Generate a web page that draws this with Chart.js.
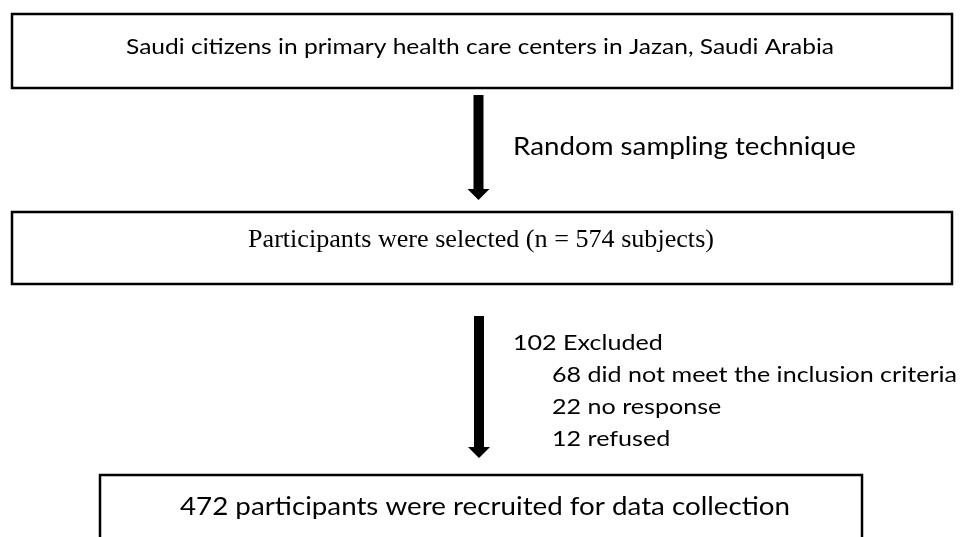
<!DOCTYPE html>
<html>
<head>
<meta charset="utf-8">
<script src="https://cdn.jsdelivr.net/npm/chart.js@4.4.1/dist/chart.umd.min.js"></script>
<style>
  html, body { margin: 0; padding: 0; background: #ffffff; }
  #wrap { width: 964px; height: 537px; position: relative; }
</style>
</head>
<body>
<div id="wrap"><canvas id="c" width="964" height="537"></canvas></div>
<script>
// ---- flow data ----
const sourcePopulation = "Saudi citizens in primary health care centers in Jazan, Saudi Arabia";
const samplingMethod = "Random sampling technique";
const selectedCount = 574;
const excludedTotal = 102;
const exclusionCounts = [68, 22, 12];
const exclusionReasons = ["did not meet the inclusion criteria", "no response", "refused"];
const recruitedCount = 472;

// ---- layout (coordinates in the hidden 0..964 x 0..537 scale space) ----
const boxes = [
  { x0: 12, x1: 952, y0: 14, y1: 88, text: sourcePopulation,
    font: "Lato", size: 22, tx: 480, ty: 47, tw: 708 },
  { x0: 12, x1: 952, y0: 212, y1: 284, text: "Participants were selected (n = " + selectedCount + " subjects)",
    font: "Liberation Serif", size: 26, tx: 481, ty: 240, tw: 466 },
  { x0: 100, x1: 862, y0: 475, y1: 560, text: recruitedCount + " participants were recruited for data collection",
    font: "Lato", size: 25, tx: 485, ty: 507, tw: 610 }
];
const arrows = [
  { x: 478.5, y0: 95, y1: 200 },
  { x: 479, y0: 316, y1: 458 }
];
const noteLines = [
  { text: samplingMethod, x: 513, y: 147, size: 25, tw: 343 }
];
const listLines = [{ text: excludedTotal + " Excluded", x: 513, y: 343 }].concat(
  exclusionCounts.map((n, i) => ({ text: n + " " + exclusionReasons[i], x: 552, y: 375 + 32 * i }))
);
const listFontSize = 22, listWidestTarget = 405;

const flowPlugin = {
  id: 'flow',
  afterDraw(chart) {
    const ctx = chart.ctx;
    const sx = chart.scales.x, sy = chart.scales.y;
    const X = v => sx.getPixelForValue(v);
    const Y = v => sy.getPixelForValue(v);
    ctx.save();
    // boxes
    ctx.strokeStyle = '#000';
    ctx.lineWidth = 2.5;
    boxes.forEach(b => {
      ctx.strokeRect(X(b.x0), Y(b.y0), X(b.x1) - X(b.x0), Y(b.y1) - Y(b.y0));
    });
    // arrows
    ctx.fillStyle = '#000';
    arrows.forEach(a => {
      const cx = X(a.x), top = Y(a.y0), tip = Y(a.y1);
      const headH = 11, halfShaft = 5, halfHead = 11;
      ctx.beginPath();
      ctx.moveTo(cx - halfShaft, top);
      ctx.lineTo(cx + halfShaft, top);
      ctx.lineTo(cx + halfShaft, tip - headH);
      ctx.lineTo(cx + halfHead, tip - headH);
      ctx.lineTo(cx, tip);
      ctx.lineTo(cx - halfHead, tip - headH);
      ctx.lineTo(cx - halfShaft, tip - headH);
      ctx.closePath();
      ctx.fill();
    });
    // text helper: k = horizontal scale factor
    function drawText(text, x, y, size, family, k, align) {
      ctx.font = size + 'px "' + family + '"';
      ctx.textBaseline = 'middle';
      ctx.textAlign = 'left';
      const w = ctx.measureText(text).width * k;
      const left = align === 'center' ? x - w / 2 : x;
      ctx.save();
      ctx.translate(left, y);
      ctx.scale(k, 1);
      ctx.fillStyle = '#000';
      ctx.fillText(text, 0, 0);
      ctx.restore();
    }
    function fitK(text, size, family, tw) {
      ctx.font = size + 'px "' + family + '"';
      return tw / ctx.measureText(text).width;
    }
    boxes.forEach(b => drawText(b.text, X(b.tx), Y(b.ty), b.size, b.font, fitK(b.text, b.size, b.font, b.tw), 'center'));
    noteLines.forEach(s => drawText(s.text, X(s.x), Y(s.y), s.size, "Lato", fitK(s.text, s.size, "Lato", s.tw), 'left'));
    // one common scale for the exclusion list, fitted on its widest line
    const kList = fitK(listLines[1].text, listFontSize, "Lato", listWidestTarget);
    listLines.forEach(s => drawText(s.text, X(s.x), Y(s.y), listFontSize, "Lato", kList, 'left'));
    ctx.restore();
  }
};

new Chart(document.getElementById('c'), {
  type: 'scatter',
  data: { datasets: [{ data: [], pointRadius: 0 }] },
  options: {
    responsive: false,
    animation: false,
    events: [],
    layout: { padding: 0 },
    plugins: { legend: { display: false }, tooltip: { enabled: false } },
    scales: {
      x: { type: 'linear', min: 0, max: 964, display: false },
      y: { type: 'linear', min: 0, max: 537, reverse: true, display: false }
    }
  },
  plugins: [flowPlugin]
});
</script>
</body>
</html>
